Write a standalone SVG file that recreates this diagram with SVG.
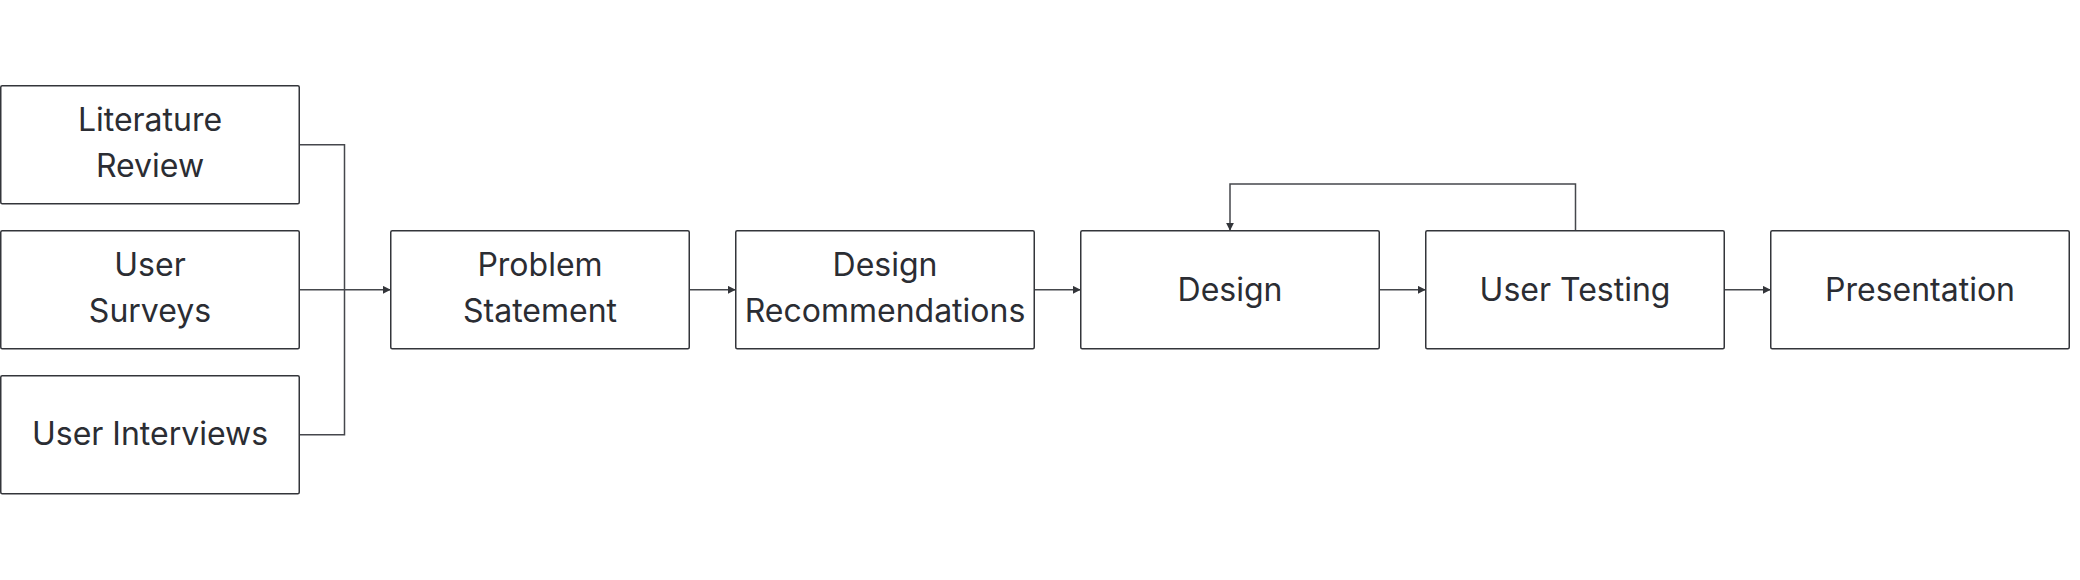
<svg xmlns="http://www.w3.org/2000/svg" width="2080" height="580" viewBox="0 0 2080 580">
  <defs>
    <style>
      .box { fill: #ffffff; stroke: #33353a; stroke-width: 1.5; }
      .lbl { font-family: "Inter", "Liberation Sans", sans-serif; font-size: 32px; fill: #2b2d33; text-anchor: middle; }
      .conn { fill: none; stroke: #45474c; stroke-width: 1.5; }
    </style>
    <marker id="arrow" viewBox="0 0 8 8" refX="8" refY="4" markerWidth="8" markerHeight="8" markerUnits="userSpaceOnUse" orient="auto">
      <path d="M0,0 L8,4 L0,8 z" fill="#33353a"/>
    </marker>
  </defs>
  <rect width="2080" height="580" fill="#ffffff"/>

  <g id="connectors">
    <polyline class="conn" points="299.25,144.75 344.5,144.75 344.5,434.75 299.25,434.75"/>
    <line class="conn" x1="299.25" y1="289.75" x2="390.75" y2="289.75" marker-end="url(#arrow)"/>
    <line class="conn" x1="689.25" y1="289.75" x2="735.75" y2="289.75" marker-end="url(#arrow)"/>
    <line class="conn" x1="1034.25" y1="289.75" x2="1080.75" y2="289.75" marker-end="url(#arrow)"/>
    <line class="conn" x1="1379.25" y1="289.75" x2="1425.75" y2="289.75" marker-end="url(#arrow)"/>
    <line class="conn" x1="1724.25" y1="289.75" x2="1770.75" y2="289.75" marker-end="url(#arrow)"/>
    <polyline class="conn" points="1575.5,230.75 1575.5,184 1230,184 1230,230.75" marker-end="url(#arrow)"/>
  </g>

  <g id="literature-review">
    <rect class="box" x="0.75" y="85.75" width="298.5" height="118" rx="1.5"/>
    <text class="lbl" x="150" y="131">Literature</text>
    <text class="lbl" x="150" y="177">Review</text>
  </g>
  <g id="user-surveys">
    <rect class="box" x="0.75" y="230.75" width="298.5" height="118" rx="1.5"/>
    <text class="lbl" x="150" y="276">User</text>
    <text class="lbl" x="150" y="322">Surveys</text>
  </g>
  <g id="user-interviews">
    <rect class="box" x="0.75" y="375.75" width="298.5" height="118" rx="1.5"/>
    <text class="lbl" x="150" y="445">User Interviews</text>
  </g>
  <g id="problem-statement">
    <rect class="box" x="390.75" y="230.75" width="298.5" height="118" rx="1.5"/>
    <text class="lbl" x="540" y="276">Problem</text>
    <text class="lbl" x="540" y="322">Statement</text>
  </g>
  <g id="design-recommendations">
    <rect class="box" x="735.75" y="230.75" width="298.5" height="118" rx="1.5"/>
    <text class="lbl" x="885" y="276">Design</text>
    <text class="lbl" x="885" y="322">Recommendations</text>
  </g>
  <g id="design">
    <rect class="box" x="1080.75" y="230.75" width="298.5" height="118" rx="1.5"/>
    <text class="lbl" x="1230" y="301">Design</text>
  </g>
  <g id="user-testing">
    <rect class="box" x="1425.75" y="230.75" width="298.5" height="118" rx="1.5"/>
    <text class="lbl" x="1575" y="301">User Testing</text>
  </g>
  <g id="presentation">
    <rect class="box" x="1770.75" y="230.75" width="298.5" height="118" rx="1.5"/>
    <text class="lbl" x="1920" y="301">Presentation</text>
  </g>
</svg>
